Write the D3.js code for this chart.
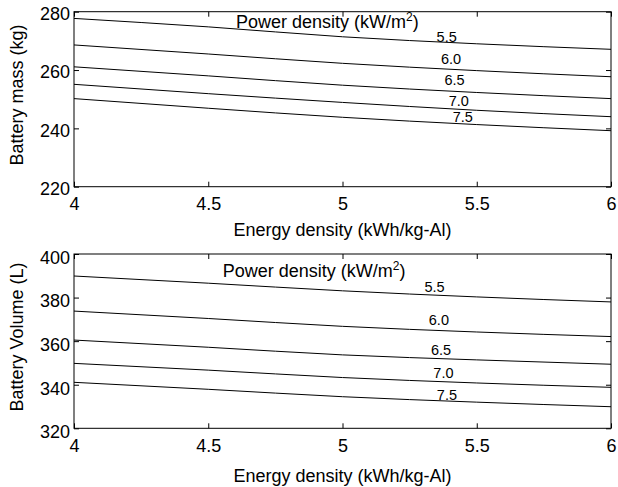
<!DOCTYPE html>
<html>
<head>
<meta charset="utf-8">
<script src="https://cdn.jsdelivr.net/npm/d3@7"></script>
<style>
  html, body { margin: 0; padding: 0; background: #fff; }
  svg { display: block; }
  text { font-family: "Liberation Sans", Arial, Helvetica, sans-serif; fill: #000; }
</style>
</head>
<body>
<svg id="chart" width="618" height="487"></svg>
<script>
// ---- data ----
const energyDensity = [4, 4.5, 5, 5.5, 6];            // kWh/kg-Al
const powerDensityLabels = ["5.5", "6.0", "6.5", "7.0", "7.5"]; // kW/m^2
const batteryMass = [                                  // kg
  [277.7, 274.8, 271.4, 269.0, 267.1],
  [268.6, 265.5, 262.3, 259.8, 257.7],
  [261.1, 258.0, 254.8, 252.3, 250.2],
  [255.1, 251.9, 248.9, 246.2, 244.0],
  [250.2, 246.9, 243.8, 241.3, 239.2]
];
const batteryVolume = [                                // L
  [389.9, 386.6, 383.1, 380.3, 378.0],
  [373.8, 370.4, 366.8, 364.2, 362.1],
  [360.5, 357.2, 353.7, 351.4, 349.4],
  [349.8, 346.7, 343.3, 340.8, 338.8],
  [341.1, 337.9, 334.5, 332.0, 329.9]
];
const xTicks = [4, 4.5, 5, 5.5, 6];
const xTickLabels = ["4", "4.5", "5", "5.5", "6"];
const massTicks = [220, 240, 260, 280];
const volumeTicks = [320, 340, 360, 380, 400];

// ---- layout ----
const svg = d3.select("#chart");
const left = 74, right = 611;

const panels = [
  {
    top: 11.7, bottom: 186.7, domain: [220, 280], ticks: massTicks,
    series: batteryMass, yTitle: "Battery mass (kg)", yTitleCenter: 95,
    tickDy: 1.5, xTitleBase: 235.7,
    pdX: 236, pdY: 28,
    labelAt: [[5.388, 269.7], [5.404, 262.1], [5.417, 254.9], [5.433, 247.7], [5.448, 242.3]]
  },
  {
    top: 254, bottom: 428.3, domain: [320, 400], ticks: volumeTicks,
    series: batteryVolume, yTitle: "Battery Volume (L)", yTitleCenter: 337,
    tickDy: 3, xTitleBase: 481.7,
    pdX: 222.7, pdY: 277.3,
    labelAt: [[5.343, 382.6], [5.359, 367.4], [5.367, 353.6], [5.376, 342.9], [5.389, 332.9]]
  }
];

panels.forEach(p => {
  const x = d3.scaleLinear().domain([4, 6]).range([left, right]);
  const y = d3.scaleLinear().domain(p.domain).range([p.bottom, p.top]);
  const g = svg.append("g");

  // inward ticks on all sides
  const fmt = (d) => xTickLabels[xTicks.indexOf(d)];
  const bx = g.append("g").attr("transform", `translate(0,${p.bottom})`)
    .call(d3.axisBottom(x).tickValues(xTicks).tickFormat(fmt).tickSizeInner(-5).tickSizeOuter(0).tickPadding(0));
  bx.selectAll("text").attr("y", 23.7).attr("dy", null).style("font-size", "18px");
  const tx = g.append("g").attr("transform", `translate(0,${p.top})`)
    .call(d3.axisTop(x).tickValues(xTicks).tickFormat("").tickSizeInner(-5).tickSizeOuter(0));
  const ly = g.append("g").attr("transform", `translate(${left},0)`)
    .call(d3.axisLeft(y).tickValues(p.ticks).tickSizeInner(-5).tickSizeOuter(0).tickPadding(0));
  ly.selectAll("text").attr("x", -4).attr("dy", "0.35em")
    .attr("transform", `translate(0,${p.tickDy})`).style("font-size", "18px");
  const ry = g.append("g").attr("transform", `translate(${right},0)`)
    .call(d3.axisRight(y).tickValues(p.ticks).tickFormat("").tickSizeInner(-5).tickSizeOuter(0));
  [bx, tx, ly, ry].forEach(a => {
    a.selectAll("path.domain").remove();
    a.selectAll("line").attr("stroke", "#000").attr("stroke-width", 1);
    a.attr("font-family", null).attr("font-size", null);
  });

  // frame
  g.append("rect")
    .attr("x", left).attr("y", p.top)
    .attr("width", right - left).attr("height", p.bottom - p.top)
    .attr("fill", "none").attr("stroke", "#000").attr("stroke-width", 1);

  // curves
  const line = d3.line().x((d, i) => x(energyDensity[i])).y(d => y(d)).curve(d3.curveMonotoneX);
  p.series.forEach(s => {
    g.append("path").attr("d", line(s))
      .attr("fill", "none").attr("stroke", "#000").attr("stroke-width", 1);
  });

  // curve labels
  powerDensityLabels.forEach((lab, i) => {
    g.append("text")
      .attr("x", x(p.labelAt[i][0])).attr("y", y(p.labelAt[i][1]))
      .attr("text-anchor", "middle").style("font-size", "14.5px").text(lab);
  });

  // "Power density" title inside
  const pt = g.append("text").attr("x", p.pdX).attr("y", p.pdY).style("font-size", "18px");
  pt.append("tspan").text("Power density (kW/m");
  pt.append("tspan").attr("dy", -7).style("font-size", "12px").text("2");
  pt.append("tspan").attr("dy", 7).text(")");

  // axis titles
  g.append("text")
    .attr("x", (left + right) / 2).attr("y", p.xTitleBase)
    .attr("text-anchor", "middle").style("font-size", "18px")
    .text("Energy density (kWh/kg-Al)");
  g.append("text")
    .attr("transform", `translate(23,${p.yTitleCenter}) rotate(-90)`)
    .attr("text-anchor", "middle").style("font-size", "18px")
    .text(p.yTitle);
});
</script>
</body>
</html>
